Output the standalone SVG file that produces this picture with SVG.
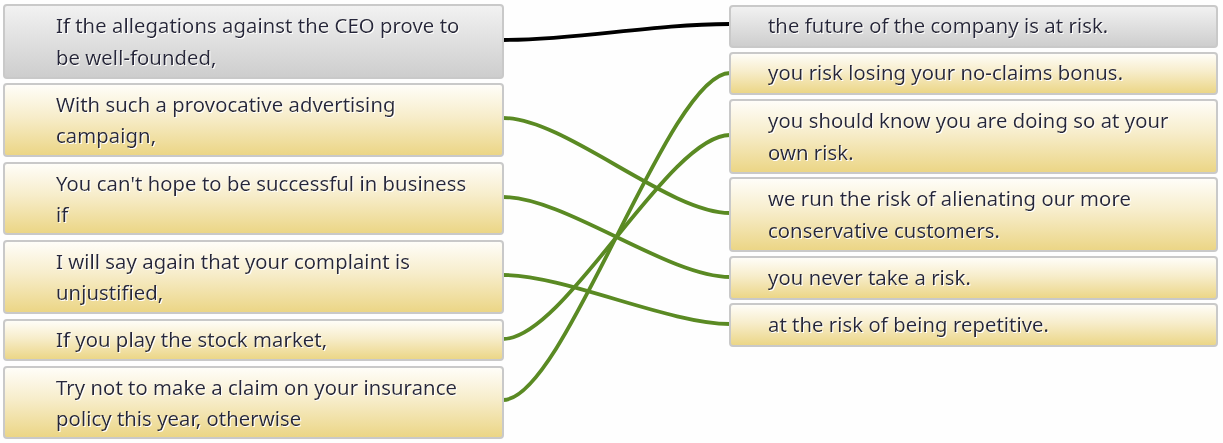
<svg xmlns="http://www.w3.org/2000/svg" width="1223" height="443" viewBox="0 0 1223 443">
<defs>
<linearGradient id="gy" x1="0" y1="0" x2="0" y2="1">
<stop offset="0" stop-color="#fffefa"/>
<stop offset="0.45" stop-color="#f7edcb"/>
<stop offset="1" stop-color="#ebd584"/>
</linearGradient>
<linearGradient id="gg" x1="0" y1="0" x2="0" y2="1">
<stop offset="0" stop-color="#f2f2f2"/>
<stop offset="1" stop-color="#cdcdcd"/>
</linearGradient>
<filter id="ts" x="-5%" y="-20%" width="110%" height="140%">
<feOffset dx="1" dy="1" in="SourceAlpha" result="o"/>
<feFlood flood-color="#ffffff"/>
<feComposite in2="o" operator="in" result="s"/>
<feMerge><feMergeNode in="s"/><feMergeNode in="SourceGraphic"/></feMerge>
</filter>
</defs>
<style>
.box{stroke:#c9c9c9;stroke-width:2}
.y{fill:url(#gy)}
.g{fill:url(#gg)}
text{font-family:"Noto Sans","Open Sans","DejaVu Sans",sans-serif;font-size:20.4px;fill:#28283a;filter:url(#ts)}
.c{fill:none;stroke:#5a8a23;stroke-width:3.8}
.k{fill:none;stroke:#000;stroke-width:3.8}
</style>
<rect width="1223" height="443" fill="#fefefe"/>
<g id="connectors">
<path class="k" d="M503,40 C580,40 650,24 730,24"/>
<path class="c" d="M503,118 C565,118 668,213 730,213"/>
<path class="c" d="M503,197 C565,197 668,277 730,277"/>
<path class="c" d="M503,275 C565,275 668,324 730,324"/>
<path class="c" d="M503,339 C565,339 668,135 730,135"/>
<path class="c" d="M503,400 C565,400 668,73 730,73"/>
</g>
<g id="L1"><rect class="box g" x="4" y="5" width="499" height="73" rx="3"/><text x="56" y="33">If the allegations against the CEO prove to</text><text x="56" y="65">be well-founded,</text></g>
<g id="L2"><rect class="box y" x="4" y="84" width="499" height="72" rx="3"/><text x="56" y="112">With such a provocative advertising</text><text x="56" y="143">campaign,</text></g>
<g id="L3"><rect class="box y" x="4" y="163" width="499" height="71" rx="3"/><text x="56" y="191">You can't hope to be successful in business</text><text x="56" y="222">if</text></g>
<g id="L4"><rect class="box y" x="4" y="241" width="499" height="72" rx="3"/><text x="56" y="269">I will say again that your complaint is</text><text x="56" y="300">unjustified,</text></g>
<g id="L5"><rect class="box y" x="4" y="320" width="499" height="40" rx="3"/><text x="56" y="347">If you play the stock market,</text></g>
<g id="L6"><rect class="box y" x="4" y="367" width="499" height="71" rx="3"/><text x="56" y="395">Try not to make a claim on your insurance</text><text x="56" y="426">policy this year, otherwise</text></g>
<g id="R1"><rect class="box g" x="730" y="6" width="487" height="41" rx="3"/><text x="768" y="33">the future of the company is at risk.</text></g>
<g id="R2"><rect class="box y" x="730" y="53" width="487" height="41" rx="3"/><text x="768" y="80">you risk losing your no-claims bonus.</text></g>
<g id="R3"><rect class="box y" x="730" y="100" width="487" height="73" rx="3"/><text x="768" y="128">you should know you are doing so at your</text><text x="768" y="160">own risk.</text></g>
<g id="R4"><rect class="box y" x="730" y="178" width="487" height="73" rx="3"/><text x="768" y="206">we run the risk of alienating our more</text><text x="768" y="238">conservative customers.</text></g>
<g id="R5"><rect class="box y" x="730" y="257" width="487" height="42" rx="3"/><text x="768" y="285">you never take a risk.</text></g>
<g id="R6"><rect class="box y" x="730" y="304" width="487" height="42" rx="3"/><text x="768" y="332">at the risk of being repetitive.</text></g>
</svg>
